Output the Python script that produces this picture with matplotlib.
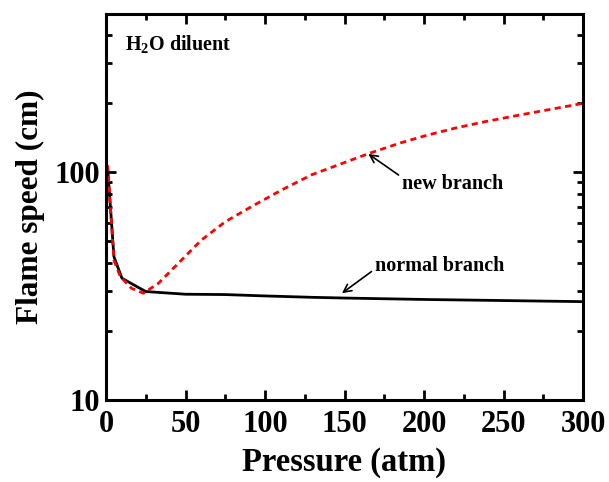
import matplotlib
matplotlib.use("Agg")
import matplotlib.pyplot as plt
from matplotlib.ticker import LogLocator, NullFormatter, MultipleLocator

plt.rcParams["font.family"] = ["Liberation Serif", "DejaVu Serif"]
plt.rcParams["font.weight"] = "bold"
plt.rcParams["mathtext.fontset"] = "custom"
plt.rcParams["mathtext.rm"] = "Liberation Serif:bold"

# flame speed vs pressure, two solution branches
p_normal = [1, 5, 10, 25, 50, 75, 100, 130, 150, 200, 250, 300]
s_normal = [105, 42.5, 34.2, 29.9, 29.1, 29.0, 28.6, 28.2, 28.0, 27.6, 27.3, 27.0]

p_new = [1, 5, 9, 16, 23.5, 33, 45.5, 60, 75, 91.5, 110.5, 129, 150, 166,
         185, 202, 220, 238, 255, 270, 300]
s_new = [107, 41, 34.8, 30.9, 29.4, 32.5, 39.8, 50.3, 60.5, 70.5, 83.4, 97,
         110, 121, 134, 145, 156, 166, 175, 183, 200]

fig = plt.figure(figsize=(6.09, 4.82), dpi=100)
ax = fig.add_axes([106 / 609, 82 / 482, 477 / 609, 386 / 482])

ax.plot(p_normal, s_normal, color="black", lw=2.0)
ax.plot(p_new, s_new, color="red", lw=2.0, dashes=(2.2, 1.6))

ax.set_yscale("log")
ax.set_xlim(0, 300)
ax.set_ylim(10, 493)

ax.xaxis.set_major_locator(MultipleLocator(50))
ax.xaxis.set_minor_locator(MultipleLocator(25))
ax.yaxis.set_minor_locator(LogLocator(base=10, subs=range(2, 10)))
ax.yaxis.set_minor_formatter(NullFormatter())
ax.set_yticks([10, 100])
ax.set_yticklabels(["10", "100"])

ax.tick_params(which="both", direction="in", top=True, right=True,
               labelsize=22, width=2)
ax.tick_params(which="major", length=7)
ax.tick_params(which="minor", length=4)
ax.tick_params(axis="x", pad=7)
ax.tick_params(axis="y", pad=4)
for s in ax.spines.values():
    s.set_linewidth(2.2)

ax.set_xlabel("Pressure (atm)", fontsize=23.5, fontweight="bold", labelpad=6)
ax.set_ylabel("Flame speed (cm)", fontsize=22.5, fontweight="bold", labelpad=7)

ax.text(12, 360, r"H$_2$O diluent", fontsize=14.5, fontweight="bold", va="center")

arrow = dict(arrowstyle="->", color="black", lw=1.2, shrinkA=0, shrinkB=0,
             mutation_scale=14)
ax.annotate("", xy=(165, 120), xytext=(184, 97), arrowprops=arrow)
ax.text(186, 88.6, "new branch", fontsize=14.5, fontweight="bold", va="center")
ax.annotate("", xy=(148.4, 29.4), xytext=(167, 36.6), arrowprops=arrow)
ax.text(169, 38.6, "normal branch", fontsize=14.5, fontweight="bold", va="center")

fig.savefig("out.png", dpi=100)
